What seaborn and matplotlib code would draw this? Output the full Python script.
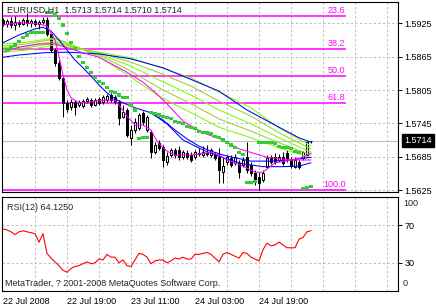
import numpy as np
import pandas as pd
import matplotlib
matplotlib.use("Agg")
import matplotlib.pyplot as plt
import matplotlib.transforms as mtransforms
import seaborn as sns

title_text = "EURUSD,H1  1.5713 1.5714 1.5710 1.5714"
rsi_text = "RSI(12) 64.1250"
copyright_text = "MetaTrader, ? 2001-2008 MetaQuotes Software Corp."

opens = [1.5931, 1.5924, 1.5929, 1.5922, 1.5927, 1.5924, 1.5931, 1.5926, 1.5929, 1.5924,
         1.5927, 1.5931, 1.5906, 1.5877, 1.5854, 1.5827, 1.5782, 1.5774, 1.5783, 1.5778,
         1.5776, 1.5785, 1.5787, 1.5778, 1.5789, 1.5783, 1.5787, 1.5796, 1.5792, 1.5783,
         1.5756, 1.5769, 1.5719, 1.5733, 1.5737, 1.5764, 1.5733, 1.5729, 1.5693, 1.5709,
         1.5702, 1.5675, 1.5688, 1.5697, 1.5697, 1.5684, 1.5691, 1.5688, 1.5684, 1.5689,
         1.5688, 1.5691, 1.5688, 1.5688, 1.5684, 1.5657, 1.5675, 1.5683, 1.5674, 1.5674,
         1.5670, 1.5684, 1.5670, 1.5656, 1.5649, 1.5643, 1.5667, 1.5684, 1.5684, 1.5679,
         1.5684, 1.5691, 1.5679, 1.5667, 1.5675, 1.5683, 1.5688, 1.5713]
highs = [1.5935, 1.5933, 1.5936, 1.5938, 1.5931, 1.5935, 1.5944, 1.5933, 1.5933, 1.5931,
         1.5936, 1.5936, 1.5908, 1.5881, 1.5859, 1.5830, 1.5787, 1.5789, 1.5787, 1.5787,
         1.5789, 1.5792, 1.5791, 1.5791, 1.5792, 1.5796, 1.5798, 1.5800, 1.5796, 1.5787,
         1.5778, 1.5773, 1.5742, 1.5755, 1.5764, 1.5767, 1.5760, 1.5733, 1.5711, 1.5715,
         1.5706, 1.5693, 1.5700, 1.5700, 1.5704, 1.5697, 1.5697, 1.5693, 1.5697, 1.5700,
         1.5704, 1.5706, 1.5700, 1.5693, 1.5700, 1.5684, 1.5688, 1.5688, 1.5689, 1.5679,
         1.5684, 1.5711, 1.5675, 1.5661, 1.5657, 1.5661, 1.5688, 1.5688, 1.5691, 1.5689,
         1.5693, 1.5697, 1.5684, 1.5684, 1.5679, 1.5695, 1.5713, 1.5714]
lows = [1.5920, 1.5918, 1.5917, 1.5913, 1.5918, 1.5922, 1.5920, 1.5918, 1.5920, 1.5915,
        1.5924, 1.5902, 1.5873, 1.5848, 1.5823, 1.5756, 1.5765, 1.5769, 1.5760, 1.5774,
        1.5773, 1.5782, 1.5774, 1.5776, 1.5778, 1.5780, 1.5783, 1.5783, 1.5780, 1.5742,
        1.5755, 1.5720, 1.5706, 1.5727, 1.5733, 1.5742, 1.5729, 1.5683, 1.5690, 1.5697,
        1.5666, 1.5670, 1.5684, 1.5683, 1.5679, 1.5681, 1.5681, 1.5675, 1.5681, 1.5686,
        1.5684, 1.5686, 1.5684, 1.5679, 1.5638, 1.5638, 1.5670, 1.5666, 1.5670, 1.5647,
        1.5666, 1.5656, 1.5650, 1.5634, 1.5625, 1.5639, 1.5665, 1.5672, 1.5672, 1.5675,
        1.5670, 1.5675, 1.5665, 1.5665, 1.5663, 1.5679, 1.5684, 1.5710]
closes = [1.5924, 1.5929, 1.5922, 1.5927, 1.5924, 1.5931, 1.5926, 1.5929, 1.5924, 1.5927,
          1.5931, 1.5906, 1.5877, 1.5854, 1.5827, 1.5782, 1.5771, 1.5783, 1.5774, 1.5783,
          1.5785, 1.5789, 1.5778, 1.5787, 1.5782, 1.5792, 1.5794, 1.5787, 1.5783, 1.5755,
          1.5765, 1.5724, 1.5733, 1.5747, 1.5760, 1.5747, 1.5756, 1.5693, 1.5706, 1.5700,
          1.5679, 1.5686, 1.5697, 1.5688, 1.5684, 1.5693, 1.5684, 1.5679, 1.5693, 1.5691,
          1.5693, 1.5689, 1.5697, 1.5683, 1.5661, 1.5668, 1.5684, 1.5670, 1.5684, 1.5657,
          1.5679, 1.5661, 1.5656, 1.5639, 1.5638, 1.5656, 1.5683, 1.5675, 1.5675, 1.5684,
          1.5674, 1.5679, 1.5668, 1.5679, 1.5667, 1.5693, 1.5712, 1.5714]

# moving averages (bar index, price)
blue_slow_idx = [0, 4, 10, 16, 24, 32, 40, 48, 54, 61, 69, 74, 77]
blue_slow_val = [1.5864, 1.5868, 1.5872, 1.5873, 1.5870, 1.5861, 1.5845, 1.5821, 1.5803, 1.5769, 1.5738, 1.5719, 1.5711]
blue_fast_idx = [0, 4, 8, 10, 12, 14, 16, 18, 20, 22, 24, 26, 28, 30, 33, 37, 40, 43, 46, 49, 52, 55, 58, 62, 67, 72, 77]
blue_fast_val = [1.5890, 1.5904, 1.5915, 1.5918, 1.5911, 1.5895, 1.5877, 1.5859, 1.5845, 1.5830, 1.5814, 1.5800, 1.5789,
                 1.5782, 1.5773, 1.5764, 1.5751, 1.5733, 1.5717, 1.5704, 1.5695, 1.5688, 1.5683, 1.5677, 1.5677, 1.5679, 1.5684]
blue_mid_idx = [37, 41, 45, 50, 55, 60, 65, 70, 74, 77]
blue_mid_val = [1.5764, 1.5744, 1.5715, 1.5697, 1.5683, 1.5672, 1.5667, 1.5667, 1.5668, 1.5674]
mag_fast_idx = [0, 4, 9, 11, 13, 14, 15, 16, 17, 19, 21, 23, 26, 28, 29, 31, 33, 35, 37, 38, 39, 41, 43, 47, 50, 52,
                54, 56, 60, 63, 65, 68, 72, 75, 77]
mag_fast_val = [1.5922, 1.5926, 1.5924, 1.5920, 1.5895, 1.5866, 1.5832, 1.5805, 1.5791, 1.5782, 1.5782, 1.5785, 1.5787,
                1.5787, 1.5778, 1.5758, 1.5742, 1.5742, 1.5733, 1.5719, 1.5708, 1.5695, 1.5688, 1.5688, 1.5691, 1.5693,
                1.5688, 1.5679, 1.5668, 1.5657, 1.5657, 1.5674, 1.5679, 1.5684, 1.5691]
mag_slow_idx = [0, 4, 9, 13, 16, 20, 24, 31, 35, 38, 41, 45, 50, 55, 59, 66, 72, 77]
mag_slow_val = [1.5873, 1.5882, 1.5888, 1.5888, 1.5881, 1.5872, 1.5864, 1.5837, 1.5819, 1.5801, 1.5780, 1.5749, 1.5728,
                1.5715, 1.5699, 1.5684, 1.5679, 1.5679]
green_idx = [0, 6, 13, 24, 32, 39, 47, 54, 62, 69, 77]
green_1 = [1.5888, 1.5891, 1.5899, 1.5865, 1.5828, 1.5794, 1.5764, 1.5738, 1.5719, 1.5701, 1.5683]
green_2 = [1.5884, 1.5888, 1.5897, 1.5868, 1.5839, 1.5809, 1.5780, 1.5753, 1.5731, 1.5710, 1.5688]
green_3 = [1.5881, 1.5884, 1.5893, 1.5870, 1.5848, 1.5823, 1.5796, 1.5769, 1.5744, 1.5719, 1.5693]
green_4 = [1.5877, 1.5881, 1.5890, 1.5872, 1.5855, 1.5836, 1.5812, 1.5785, 1.5758, 1.5728, 1.5699]
green_5 = [1.5873, 1.5877, 1.5886, 1.5873, 1.5863, 1.5846, 1.5827, 1.5801, 1.5773, 1.5737, 1.5704]

sar_val = [1.5877, 1.5881, 1.5886, 1.5893, 1.5900, 1.5904, 1.5908, 1.5908, 1.5908, 1.5908,
           1.5945, 1.5945, 1.5940, 1.5933, 1.5922, 1.5906, 1.5891, 1.5879, 1.5866, 1.5855,
           1.5845, 1.5836, 1.5828, 1.5821, 1.5816, 1.5809, 1.5803, 1.5800, 1.5796, 1.5792,
           1.5791, 1.5778, 1.5769, 1.5717, 1.5719, 1.5720, 1.5764, 1.5762, 1.5760, 1.5758,
           1.5756, 1.5753, 1.5749, 1.5747, 1.5744, 1.5740, 1.5738, 1.5735, 1.5731, 1.5729,
           1.5728, 1.5726, 1.5722, 1.5719, 1.5715, 1.5711, 1.5706, 1.5701, 1.5693, 1.5689,
           1.5638, 1.5638, 1.5641, 1.5711, 1.5711, 1.5710, 1.5710, 1.5708, 1.5704, 1.5702,
           1.5701, 1.5699, 1.5695, 1.5692, 1.5627, 1.5629, 1.5632]

rsi = [66, 65, 63, 60, 63, 64, 63, 62, 61, 52, 61, 40, 35, 31, 27, 22, 20, 24, 26, 27,
       29, 31, 29, 30, 34, 33, 39, 36, 36, 30, 33, 27, 26, 33, 40, 39, 36, 29, 32, 33,
       33, 30, 32, 35, 34, 36, 34, 34, 39, 39, 40, 41, 39, 35, 31, 39, 41, 39, 37, 35,
       41, 40, 36, 34, 32, 44, 51, 48, 49, 52, 49, 46, 46, 46, 55, 57, 63, 64.125]

fib_levels = [1.5938, 1.5879, 1.5830, 1.5782, 1.5625]
fib_labels = ["23.6", "38.2", "50.0", "61.8", "100.0"]
price_ticks = [1.5625, 1.5685, 1.5745, 1.5805, 1.5865, 1.5925]
rsi_ticks = [30, 70]
date_pos = [0, 16, 32, 48, 64]
date_labels = ["22 Jul 2008", "22 Jul 19:00", "23 Jul 11:00", "24 Jul 03:00", "24 Jul 19:00"]

sns.set_style("white")
plt.rcParams['font.family'] = ['Liberation Sans', 'DejaVu Sans']
FS = 6.5

fig = plt.figure(figsize=(4.36, 3.08), dpi=100)
W, H = 436, 308
ax = fig.add_axes([2 / W, 1 - 192 / H, 396 / W, 190 / H])
axr = fig.add_axes([2 / W, 1 - 291 / H, 396 / W, 94 / H])

n = len(closes)
idx = np.arange(n)
o = np.array(opens); c = np.array(closes); hi = np.array(highs); lo = np.array(lows)

gridc = '#c0c0c0'
dash = (0, (2.2, 2.2))
for a in (ax, axr):
    a.set_xlim(-0.25, 98.75)
    for gx in range(8, 99, 8):
        a.axvline(gx, color=gridc, lw=0.75, ls=dash, zorder=0)
    for s in a.spines.values():
        s.set_color('black'); s.set_linewidth(0.8)
    a.set_facecolor('white')

ax.set_ylim(1.56214, 1.59634)
for py in price_ticks:
    ax.axhline(py, color=gridc, lw=0.75, ls=dash, zorder=0)
ax.axhline(closes[-1], color='#c0c0c0', lw=0.8, zorder=1)

# fibonacci levels
for lv, lb in zip(fib_levels, fib_labels):
    ax.hlines(lv, -0.25, 85.75, color='#FF00FF', lw=1.1, zorder=1)
    ax.text(85.6, lv + 0.0002, lb, color='#FF00FF', fontsize=FS, ha='right', va='bottom', zorder=6)

# candles
ax.vlines(idx, lo, hi, color='black', lw=0.75, zorder=2)
body_lo = np.minimum(o, c)
body_h = np.maximum(np.abs(c - o), 0.00004)
body_col = ['white' if cc > oo else 'black' for oo, cc in zip(o, c)]
ax.bar(idx, body_h, bottom=body_lo, width=0.55, color=body_col, edgecolor='black', linewidth=0.75, zorder=2)

def line(a, xs, ys, color, lw=0.75, z=3):
    sns.lineplot(x=xs, y=ys, ax=a, color=color, linewidth=lw, zorder=z, estimator=None, sort=False, legend=False)

gcols = ['#7CFC00', '#9ACD32', '#7CFC00', '#9ACD32', '#7CFC00']
for gv, gc in zip([green_1, green_2, green_3, green_4, green_5], gcols):
    line(ax, green_idx, gv, gc, 0.75, 3)
line(ax, blue_slow_idx, blue_slow_val, '#0000FF', 0.75, 4)
line(ax, blue_fast_idx, blue_fast_val, '#0000FF', 0.75, 4)
line(ax, blue_mid_idx, blue_mid_val, '#0000FF', 0.75, 4)
line(ax, mag_slow_idx, mag_slow_val, '#FF00FF', 0.75, 4)
line(ax, mag_fast_idx, mag_fast_val, '#FF00FF', 0.75, 4)

sns.scatterplot(x=np.arange(1, n), y=sar_val, ax=ax, marker='s', s=5, color='#32CD32',
                edgecolor='none', linewidth=0, zorder=5, legend=False)

ax.yaxis.tick_right()
ax.set_yticks(price_ticks)
ax.set_yticklabels([f"{v:.4f}" for v in price_ticks])
ax.tick_params(axis='y', direction='out', length=3, width=0.7, pad=1.5, labelsize=FS, colors='black')
ax.tick_params(axis='x', length=0, labelbottom=False)
ax.set_xlabel(''); ax.set_ylabel('')

trans = mtransforms.blended_transform_factory(ax.transAxes, ax.transData)
ax.text(1.0 + 6 / 396, closes[-1], f"{closes[-1]:.4f}", transform=trans, color='white', fontsize=FS,
        ha='left', va='center', clip_on=False,
        bbox=dict(boxstyle='square,pad=0.25', fc='black', ec='black'))
ax.text(5 / 396, 1 - 8 / 190, title_text, transform=ax.transAxes, fontsize=FS, ha='left', va='center', zorder=7)

# RSI panel
axr.set_ylim(0, 100)
for ry in rsi_ticks:
    axr.axhline(ry, color=gridc, lw=0.75, ls=dash, zorder=0)
line(axr, idx, rsi, '#FF0000', 0.8, 3)
axr.yaxis.tick_right()
axr.set_yticks(rsi_ticks)
axr.set_yticklabels([str(v) for v in rsi_ticks])
axr.tick_params(axis='y', direction='out', length=3, width=0.7, pad=1.5, labelsize=FS, colors='black')
axr.text(1.0 + 5 / 396, 1 - 6 / 94, "100", transform=axr.transAxes, fontsize=FS, ha='left', va='center', clip_on=False)
axr.text(1.0 + 5 / 396, 7 / 94, "0", transform=axr.transAxes, fontsize=FS, ha='left', va='center', clip_on=False)
axr.set_xticks(date_pos)
axr.set_xticklabels(date_labels, ha='left')
axr.tick_params(axis='x', direction='out', length=3, width=0.7, pad=1.0, labelsize=FS, colors='black')
for lab in axr.get_xticklabels():
    lab.set_horizontalalignment('left')
axr.set_xlabel(''); axr.set_ylabel('')
axr.text(5 / 396, 1 - 10 / 94, rsi_text, transform=axr.transAxes, fontsize=FS, ha='left', va='center')
axr.text(3 / 396, 8 / 94, copyright_text, transform=axr.transAxes, fontsize=FS, ha='left', va='center')

fig.savefig("out.png", dpi=100, facecolor='white')
